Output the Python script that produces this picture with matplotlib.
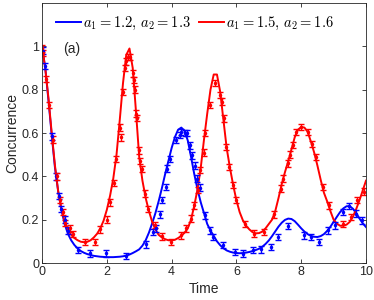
import matplotlib
matplotlib.use("Agg")
import matplotlib.pyplot as plt
import numpy as np

plt.rcParams['font.family'] = ['Liberation Sans', 'DejaVu Sans']
plt.rcParams['mathtext.fontset'] = 'cm'

# theory curves sampled every 0.1 in time
curve_t = [round(0.1 * i, 1) for i in range(101)]
red_curve = [1.00, 0.90, 0.76, 0.60, 0.45, 0.33, 0.25, 0.19, 0.155, 0.13,
             0.115, 0.105, 0.098, 0.096, 0.098, 0.105, 0.118, 0.135, 0.16, 0.195,
             0.245, 0.31, 0.39, 0.50, 0.66, 0.83, 0.96, 0.99, 0.90, 0.70,
             0.49, 0.38, 0.30, 0.24, 0.19, 0.155, 0.13, 0.118, 0.11, 0.105,
             0.104, 0.107, 0.115, 0.125, 0.14, 0.16, 0.20, 0.265, 0.34, 0.44,
             0.57, 0.69, 0.80, 0.87, 0.87, 0.79, 0.66, 0.53, 0.44, 0.36,
             0.29, 0.235, 0.197, 0.172, 0.155, 0.142, 0.137, 0.138, 0.145, 0.16,
             0.18, 0.20, 0.24, 0.30, 0.365, 0.42, 0.47, 0.525, 0.58, 0.615,
             0.628, 0.625, 0.605, 0.56, 0.51, 0.45, 0.385, 0.325, 0.285, 0.24,
             0.20, 0.182, 0.172, 0.172, 0.177, 0.19, 0.215, 0.25, 0.29, 0.335,
             0.38]
blue_curve = [1.00, 0.90, 0.75, 0.59, 0.44, 0.33, 0.245, 0.18, 0.135, 0.105,
              0.083, 0.067, 0.055, 0.047, 0.041, 0.037, 0.033, 0.031, 0.029, 0.028,
              0.027, 0.027, 0.027, 0.028, 0.029, 0.031, 0.034, 0.039, 0.046, 0.054,
              0.063, 0.08, 0.105, 0.14, 0.183, 0.23, 0.285, 0.345, 0.41, 0.47,
              0.53, 0.58, 0.615, 0.625, 0.61, 0.565, 0.49, 0.41, 0.34, 0.28,
              0.23, 0.18, 0.15, 0.125, 0.1, 0.082, 0.068, 0.058, 0.052, 0.048,
              0.046, 0.045, 0.046, 0.048, 0.051, 0.055, 0.06, 0.066, 0.075, 0.088,
              0.104, 0.124, 0.146, 0.168, 0.186, 0.199, 0.205, 0.203, 0.193, 0.177,
              0.16, 0.145, 0.133, 0.125, 0.121, 0.12, 0.124, 0.133, 0.148, 0.167,
              0.19, 0.213, 0.235, 0.252, 0.262, 0.262, 0.25, 0.23, 0.205, 0.183,
              0.166]

# simulated data points with error bars
red_t = [0.00, 0.03, 0.13, 0.22, 0.33, 0.45, 0.57, 0.64, 0.71, 0.86, 0.95, 1.32, 1.63,
         1.78, 2.01, 2.11, 2.22, 2.29, 2.40, 2.43, 2.50, 2.56, 2.60, 2.64, 2.72, 2.80,
         2.83, 2.86, 2.90, 2.93, 2.99, 3.04, 3.10, 3.17, 3.27, 3.48, 3.71, 3.99, 4.30,
         4.45, 4.60, 4.70, 4.81, 4.89, 5.00, 5.02, 5.20, 5.34, 5.50, 5.55, 5.61, 5.68,
         5.78, 5.89, 5.99, 6.25, 6.55, 6.86, 7.17, 7.37, 7.44, 7.58, 7.65, 7.75, 7.84,
         7.99, 8.20, 8.33, 8.47, 8.66, 8.86, 9.28, 9.53, 9.73, 9.94]
red_v = [0.99, 0.97, 0.85, 0.73, 0.57, 0.40, 0.29, 0.235, 0.185, 0.16, 0.135, 0.097, 0.097,
         0.155, 0.20, 0.28, 0.37, 0.48, 0.625, 0.58, 0.79, 0.90, 0.93, 0.95, 0.95, 0.875,
         0.845, 0.80, 0.69, 0.67, 0.52, 0.47, 0.435, 0.32, 0.25, 0.175, 0.123, 0.097, 0.128,
         0.16, 0.205, 0.266, 0.336, 0.43, 0.51, 0.60, 0.73, 0.83, 0.775, 0.745, 0.667, 0.535,
         0.443, 0.36, 0.29, 0.18, 0.136, 0.143, 0.225, 0.343, 0.39, 0.46, 0.50, 0.545, 0.605,
         0.628, 0.605, 0.55, 0.49, 0.35, 0.266, 0.18, 0.212, 0.29, 0.33]
red_err = [0.015] * len(red_t)

blue_t = [0.02, 0.10, 0.32, 0.43, 0.54, 0.60, 0.70, 0.80, 1.11, 1.47, 1.98, 2.60, 3.20,
          3.43, 3.52, 3.63, 3.71, 3.83, 3.87, 3.96, 4.14, 4.25, 4.30, 4.40, 4.46, 4.56,
          4.62, 4.72, 4.77, 4.87, 5.03, 5.18, 5.28, 5.59, 5.95, 6.20, 6.51, 6.77, 7.08,
          7.28, 7.59, 8.10, 8.30, 8.56, 8.82, 9.03, 9.28, 9.47, 9.68, 9.89]
blue_v = [0.98, 0.91, 0.585, 0.40, 0.31, 0.25, 0.20, 0.15, 0.06, 0.044, 0.045, 0.032, 0.086,
          0.143, 0.16, 0.224, 0.29, 0.35, 0.436, 0.48, 0.567, 0.59, 0.605, 0.60, 0.60, 0.543,
          0.497, 0.45, 0.39, 0.348, 0.22, 0.151, 0.12, 0.082, 0.051, 0.043, 0.059, 0.063, 0.074,
          0.12, 0.17, 0.128, 0.12, 0.097, 0.151, 0.174, 0.235, 0.262, 0.228, 0.197]
blue_err = [0.015] * len(blue_t)

labels = [r'$a_1 = 1.2,\, a_2 = 1.3$', r'$a_1 = 1.5,\, a_2 = 1.6$']
xticks = [0, 2, 4, 6, 8, 10]
yticks = [0, 0.2, 0.4, 0.6, 0.8, 1]

axc = (0.15, 0.15, 0.15)
fig = plt.figure(figsize=(3.74, 3.0), dpi=100)
ax = fig.add_axes([42/374, 37/300, 324/374, 260/300])

ax.plot(curve_t, blue_curve, color='blue', lw=1.4, label=labels[0])
ax.plot(curve_t, red_curve, color='red', lw=1.4, label=labels[1])
ax.errorbar(blue_t, blue_v, yerr=blue_err, fmt='.', color='blue', ms=3,
            elinewidth=1.0, capsize=2.5, capthick=1.0)
ax.errorbar(red_t, red_v, yerr=red_err, fmt='.', color='red', ms=3,
            elinewidth=1.0, capsize=2.5, capthick=1.0)

ax.set_xlim(0, 10)
ax.set_ylim(0, 1.2)
ax.set_xticks(xticks)
ax.set_xticklabels([str(v) for v in xticks])
ax.set_yticks(yticks)
ax.set_yticklabels(['0', '0.2', '0.4', '0.6', '0.8', '1'])
ax.tick_params(direction='in', top=True, right=True, length=3, width=0.6,
               colors=axc, labelsize=9, pad=2)
for s in ax.spines.values():
    s.set_color(axc)
    s.set_linewidth(0.6)
ax.set_xlabel('Time', fontsize=10, color=axc, labelpad=3)
ax.set_ylabel('Concurrence', fontsize=10, color=axc, labelpad=2)
ax.text(0.065, 0.825, '(a)', transform=ax.transAxes, fontsize=10, color=axc,
        va='center', ha='left')

ax.legend(loc='center', ncol=2, frameon=False, fontsize=10.5,
          handlelength=1.7, handletextpad=0.15, columnspacing=0.6,
          bbox_to_anchor=(0.472, 0.92))

fig.savefig('out.png', dpi=100)
